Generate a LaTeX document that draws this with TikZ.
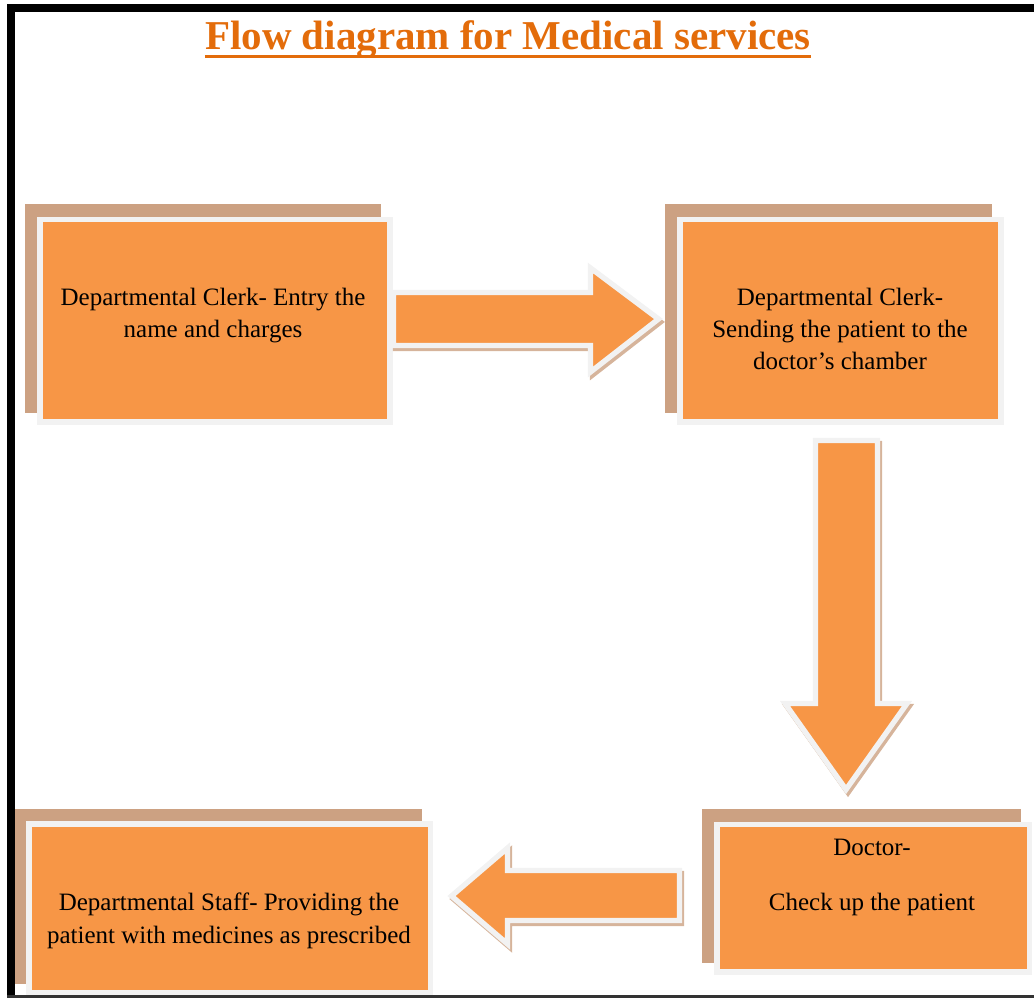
\documentclass[tikz,border=0pt]{standalone}
\usepackage{fontspec}
\setmainfont{Liberation Serif}
\usetikzlibrary{backgrounds}
\definecolor{boxfill}{HTML}{F79646}
\definecolor{boxedge}{HTML}{F2F2F2}
\definecolor{boxshadow}{RGB}{204,161,130}
\definecolor{titleorange}{HTML}{E36C0A}
\tikzset{
  stepbox/.style={rectangle, fill=boxfill, draw=boxedge, line width=4.125pt, outer sep=0pt, inner sep=0pt},
  backdrop/.style={fill=boxshadow},
  blockarrow/.style={fill=boxfill, draw=boxedge, line width=4pt, line join=miter},
  arrowback/.style={fill=boxshadow!80, draw=boxshadow!80, line width=4pt, line join=miter},
  boxtext/.style={inner sep=0pt, anchor=base, font=\fontsize{18.75pt}{24pt}\selectfont},
  titletext/.style={inner sep=0pt, anchor=base, text=titleorange, font=\fontsize{30.75pt}{36pt}\selectfont\bfseries}
}
\begin{document}
\begin{tikzpicture}[x=0.75pt, y=-0.75pt]
\useasboundingbox (0,0) rectangle (1034,998);

% title
\node[titletext] (title) at (508,49.5) {Flow diagram for Medical services};
\draw[titleorange, line width=2.25pt] ([shift={(0,7)}]title.base west) -- ([shift={(0,7)}]title.base east);

% process boxes
\node[stepbox, minimum width=262.5pt, minimum height=151.875pt] (clerkentry) at (215,320.75) {};
\node[stepbox, minimum width=240.75pt, minimum height=151.875pt] (clerksend) at (840.5,320.75) {};
\node[stepbox, minimum width=234.375pt, minimum height=110.625pt] (doctor) at (873.25,898.25) {};
\node[stepbox, minimum width=301.125pt, minimum height=126.75pt] (staff) at (229.75,908.5) {};

% offset backdrops behind the boxes
\begin{pgfonlayer}{background}
\foreach \b in {clerkentry,clerksend,doctor,staff}{
  \fill[backdrop] ([shift={(-15,-15.5)}]\b.north west) rectangle ([shift={(-9,-9)}]\b.south east);
}
\end{pgfonlayer}

% block arrows: shadow first, then the arrow
\begin{scope}[shift={(2,3)}]
  \path[arrowback] (393.5,292.5) -- (590.5,292.5) -- (590.5,268) -- (658.5,319) -- (590.5,372) -- (590.5,345.5) -- (393.5,345.5) -- cycle;
  \path[arrowback] (815.5,440.5) -- (877.5,440.5) -- (877.5,703.5) -- (907,703.5) -- (846,789.5) -- (785,703.5) -- (815.5,703.5) -- cycle;
  \path[arrowback] (679.5,870.5) -- (679.5,920.5) -- (507.5,920.5) -- (507.5,944) -- (451.5,896) -- (507.5,848) -- (507.5,870.5) -- cycle;
\end{scope}
\path[blockarrow] (393.5,292.5) -- (590.5,292.5) -- (590.5,268) -- (658.5,319) -- (590.5,372) -- (590.5,345.5) -- (393.5,345.5) -- cycle;
\path[blockarrow] (815.5,440.5) -- (877.5,440.5) -- (877.5,703.5) -- (907,703.5) -- (846,789.5) -- (785,703.5) -- (815.5,703.5) -- cycle;
\path[blockarrow] (679.5,870.5) -- (679.5,920.5) -- (507.5,920.5) -- (507.5,944) -- (451.5,896) -- (507.5,848) -- (507.5,870.5) -- cycle;

% box texts
\node[boxtext] (t1a) at (213,305.5) {Departmental Clerk- Entry the};
\node[boxtext] (t1b) at (213,337.5) {name and charges};
\node[boxtext] (t2a) at (840,305.5) {Departmental Clerk-};
\node[boxtext] (t2b) at (840,337.5) {Sending the patient to the};
\node[boxtext] (t2c) at (840,369.5) {doctor’s chamber};
\node[boxtext] (t3a) at (872,855.5) {Doctor-};
\node[boxtext] (t3b) at (872,910.5) {Check up the patient};
\node[boxtext] (t4a) at (229,910.5) {Departmental Staff- Providing the};
\node[boxtext] (t4b) at (229,943.5) {patient with medicines as prescribed};

% page frame
\fill[black] (7,4) rectangle (1034,12);
\fill[black] (7,4) rectangle (15,998);
\fill[black!80] (7,995) rectangle (1034,998);
\end{tikzpicture}
\end{document}
